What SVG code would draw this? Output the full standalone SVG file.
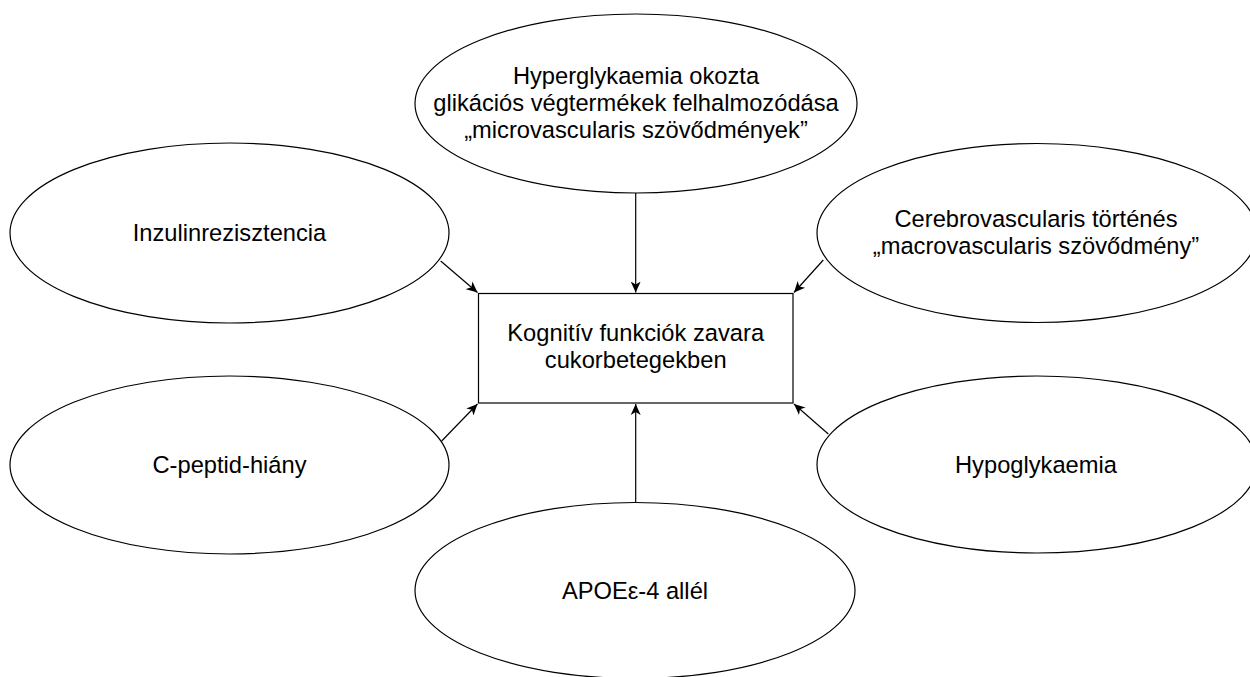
<svg xmlns="http://www.w3.org/2000/svg" width="1250" height="677" viewBox="0 0 1250 677">
<defs>
<style>
.shape{fill:#fff;stroke:#000;stroke-width:1.2}
.lbl{font-family:"Liberation Sans",Arial,sans-serif;font-size:23.7px;fill:#000;text-anchor:middle}
.conn{stroke:#000;stroke-width:1.2;fill:none}
</style>
<marker id="arr" markerUnits="userSpaceOnUse" markerWidth="12" markerHeight="12" viewBox="0 0 12 12" refX="11" refY="6" orient="auto">
<path d="M0,1 L11,6 L0,11 L3,6 Z" fill="#000"/>
</marker>
</defs>
<rect width="1250" height="677" fill="#fff"/>
<g id="n-hyper">
<ellipse class="shape" cx="636" cy="103.5" rx="221" ry="89.5"/>
<text class="lbl" x="636" y="83.5">Hyperglykaemia okozta</text>
<text class="lbl" x="636" y="110.8">glikációs végtermékek felhalmozódása</text>
<text class="lbl" x="636" y="138">„microvascularis szövődmények”</text>
</g>
<g id="n-inzulin">
<ellipse class="shape" cx="229.5" cy="233" rx="219.5" ry="90"/>
<text class="lbl" x="229.5" y="241">Inzulinrezisztencia</text>
</g>
<g id="n-cerebro">
<ellipse class="shape" cx="1037" cy="233" rx="220" ry="89.5"/>
<text class="lbl" x="1036" y="226.7">Cerebrovascularis történés</text>
<text class="lbl" x="1036" y="254">„macrovascularis szövődmény”</text>
</g>
<g id="n-center">
<rect class="shape" x="478.5" y="293.5" width="314.5" height="109.5"/>
<text class="lbl" x="635.7" y="340.5">Kognitív funkciók zavara</text>
<text class="lbl" x="635.7" y="368">cukorbetegekben</text>
</g>
<g id="n-cpeptid">
<ellipse class="shape" cx="229.5" cy="465" rx="219.5" ry="89"/>
<text class="lbl" x="229.5" y="473">C-peptid-hiány</text>
</g>
<g id="n-hypo">
<ellipse class="shape" cx="1037" cy="464.5" rx="220" ry="88.5"/>
<text class="lbl" x="1036" y="472.5">Hypoglykaemia</text>
</g>
<g id="n-apoe">
<ellipse class="shape" cx="635" cy="590.5" rx="220" ry="88"/>
<text class="lbl" x="635" y="598.5">APOEε-4 allél</text>
</g>
<g id="connectors">
<line class="conn" x1="635.7" y1="193" x2="635.7" y2="292.5" marker-end="url(#arr)"/>
<line class="conn" x1="635.7" y1="502.5" x2="635.7" y2="404" marker-end="url(#arr)"/>
<line class="conn" x1="440.7" y1="261" x2="477.5" y2="292.5" marker-end="url(#arr)"/>
<line class="conn" x1="823.3" y1="260" x2="794" y2="292.5" marker-end="url(#arr)"/>
<line class="conn" x1="828.3" y1="434" x2="794" y2="404" marker-end="url(#arr)"/>
<line class="conn" x1="441.7" y1="441" x2="477.5" y2="404" marker-end="url(#arr)"/>
</g>
</svg>
